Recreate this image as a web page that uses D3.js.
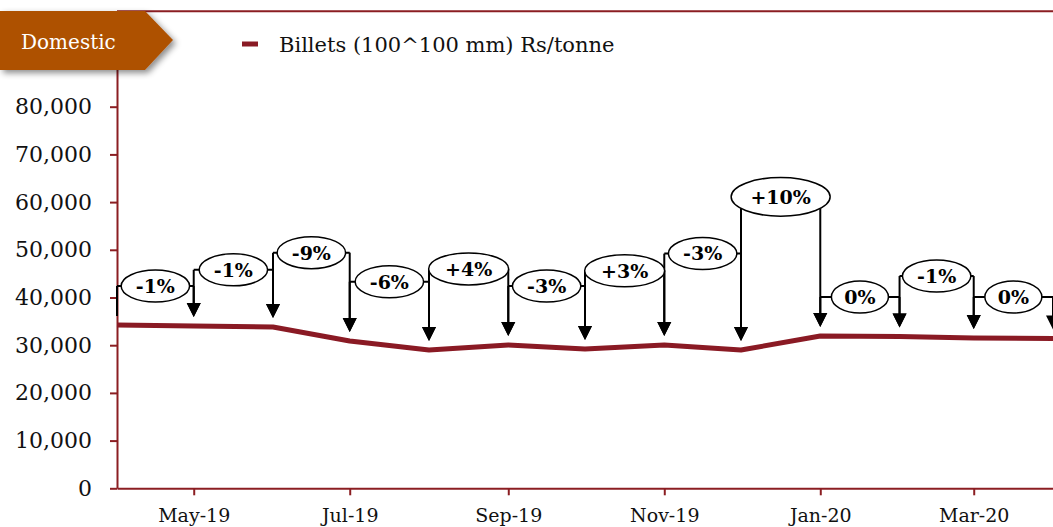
<!DOCTYPE html>
<html><head><meta charset="utf-8">
<script src="https://cdn.jsdelivr.net/npm/d3@7"></script>
<style>body{margin:0;background:#fff;overflow:hidden}</style>
</head><body>
<svg id="chart" width="1053" height="527"></svg>
<script>
// ---- data ----
const months = ["2019-04-01","2019-05-01","2019-06-01","2019-07-01","2019-08-01","2019-09-01","2019-10-01","2019-11-01","2019-12-01","2020-01-01","2020-02-01","2020-03-01","2020-04-01"];
const billetPrices = [34250, 34030, 33820, 30880, 29000, 30040, 29200, 30050, 29000, 31930, 31800, 31500, 31400];
const changeLabels = ["-1%","-1%","-9%","-6%","+4%","-3%","+3%","-3%","+10%","0%","-1%","0%"];
const bracketLevels = [42400, 45800, 49400, 43300, 46000, 42400, 45600, 49200, 61100, 40100, 44500, 40100];
const yTickValues = [0,10000,20000,30000,40000,50000,60000,70000,80000,90000];
const xTickMonths = ["2019-05-01","2019-07-01","2019-09-01","2019-11-01","2020-01-01","2020-03-01"];
const seriesName = "Billets (100^100 mm) Rs/tonne";
const badgeText = "Domestic";

// ---- setup ----
const parse = d3.timeParse("%Y-%m-%d");
const dates = months.map(parse);
const svg = d3.select("#chart");
const FONT = "Georgia, 'DejaVu Serif', serif";
const AXIS = "#8B1E22";
const LINE = "#8A1A24";

const x = d3.scaleTime().domain([dates[0], dates[dates.length-1]]).range([117, 1053]);
const y = d3.scaleLinear().domain([0, 100000]).range([488.3, 11.3]);

// top frame line
svg.append("line").attr("x1", 117).attr("x2", 1053).attr("y1", y(100000)).attr("y2", y(100000))
  .attr("stroke", AXIS).attr("stroke-width", 2);

// y axis
const yAxis = svg.append("g").attr("transform", "translate(117,0)")
  .call(d3.axisLeft(y).tickValues(yTickValues).tickFormat(d3.format(",")).tickSize(7).tickSizeOuter(0).tickPadding(18));
yAxis.select(".domain").attr("stroke", AXIS).attr("stroke-width", 2);
yAxis.selectAll(".tick line").attr("stroke", AXIS).attr("stroke-width", 2);
yAxis.selectAll(".tick text").attr("font-family", FONT).attr("font-size", 22).attr("fill", "#111");

// x axis
const xAxis = svg.append("g").attr("transform", `translate(0,${y(0)})`)
  .call(d3.axisBottom(x).tickValues(xTickMonths.map(parse)).tickFormat(d3.timeFormat("%b-%y")).tickSize(7).tickSizeOuter(0).tickPadding(13));
xAxis.select(".domain").attr("stroke", AXIS).attr("stroke-width", 2);
xAxis.selectAll(".tick line").attr("stroke", AXIS).attr("stroke-width", 2);
xAxis.selectAll(".tick text").attr("font-family", FONT).attr("font-size", 19).attr("fill", "#111");

// series line
const line = d3.line().x((d,i) => x(dates[i])).y(d => y(d));
svg.append("path").datum(billetPrices).attr("d", line)
  .attr("fill", "none").attr("stroke", LINE).attr("stroke-width", 5).attr("stroke-linejoin", "round");

// brackets with arrows
const ann = svg.append("g");
const tipGap = 9, headH = 14, headW = 7;
changeLabels.forEach((lab, i) => {
  const x0 = x(dates[i]), x1 = x(dates[i+1]);
  const ly = y(bracketLevels[i]);
  ann.append("path").attr("d", `M${x0},${ly}H${x1}`).attr("stroke", "#000").attr("stroke-width", 2).attr("fill", "none");
  [i, i+1].forEach(j => {
    const xj = x(dates[j]);
    const tip = y(billetPrices[j]) - tipGap;
    if (j === 0) {
      ann.append("path").attr("d", `M${xj},${ly}V${tip}`).attr("stroke", "#000").attr("stroke-width", 2);
    } else {
      ann.append("path").attr("d", `M${xj},${ly}V${tip - headH + 1}`).attr("stroke", "#000").attr("stroke-width", 2);
      ann.append("path").attr("d", `M${xj},${tip}L${xj-headW},${tip-headH}L${xj+headW},${tip-headH}Z`).attr("fill", "#000");
    }
  });
});
changeLabels.forEach((lab, i) => {
  const cx = (x(dates[i]) + x(dates[i+1])) / 2;
  const cy = y(bracketLevels[i]);
  const g = ann.append("g");
  const el = g.append("ellipse").attr("cx", cx).attr("cy", cy).attr("fill", "#fff").attr("stroke", "#000").attr("stroke-width", 1.5);
  const t = g.append("text").attr("x", cx).attr("y", cy).attr("dy", "0.36em").attr("text-anchor", "middle")
    .attr("font-family", FONT).attr("font-weight", "bold").attr("font-size", 19).attr("fill", "#000").text(lab);
  const tw = t.node().getComputedTextLength();
  el.attr("rx", tw * 0.72 + 6).attr("ry", Math.max(16, tw * 0.32));
});

// legend
svg.append("line").attr("x1", 242).attr("x2", 258).attr("y1", 44).attr("y2", 44).attr("stroke", LINE).attr("stroke-width", 5);
svg.append("text").attr("x", 279).attr("y", 52).attr("font-family", FONT).attr("font-size", 21).attr("fill", "#111").text(seriesName);

// badge
const defs = svg.append("defs");
const f = defs.append("filter").attr("id", "sh").attr("x", "-20%").attr("y", "-20%").attr("width", "150%").attr("height", "160%");
f.append("feDropShadow").attr("dx", 3).attr("dy", 3).attr("stdDeviation", 3).attr("flood-color", "#000").attr("flood-opacity", 0.45);
svg.append("path").attr("d", "M0,11H145L173,40L145,70H0Z").attr("fill", "#AE5100").attr("filter", "url(#sh)");
svg.append("text").attr("x", 21).attr("y", 49).attr("font-family", FONT).attr("font-size", 20).attr("fill", "#fff").text(badgeText);
</script>
</body></html>
